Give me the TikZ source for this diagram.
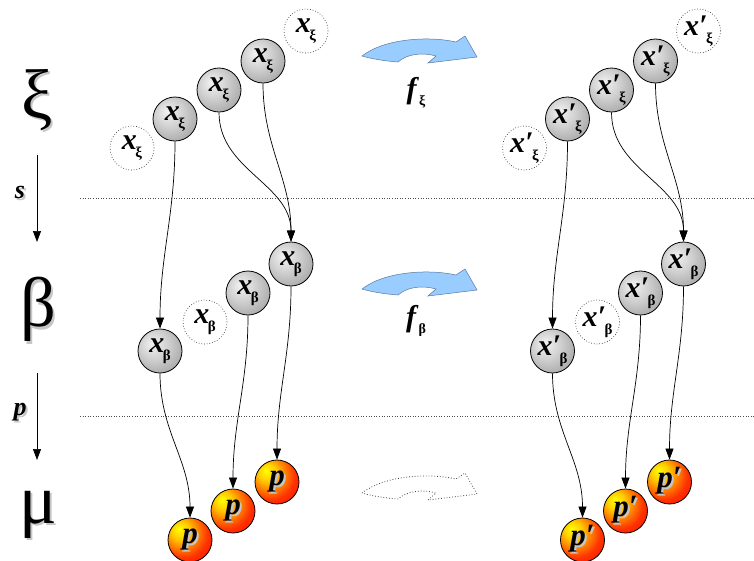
\documentclass[tikz,border=0pt]{standalone}
\usepackage{fontspec}
\setmainfont{Liberation Serif}
\newfontfamily\tms{Liberation Serif}
\usetikzlibrary{arrows.meta}
\pgfdeclareradialshading{greyball}{\pgfpoint{-9bp}{9bp}}{color(0bp)=(gray!10); color(15bp)=(gray!35); color(42bp)=(gray!85); color(70bp)=(gray!95)}
\pgfdeclareradialshading{redball}{\pgfpoint{-13bp}{13bp}}{color(0bp)=(yellow); color(10bp)=(yellow!60!orange); color(28bp)=(orange!40!red); color(45bp)=(red); color(70bp)=(red)}
\definecolor{arrowblue}{RGB}{153,204,255}
\definecolor{arrowedge}{RGB}{90,120,160}
\newcommand\shtext[1]{\makebox[0pt][l]{\kern2pt\raisebox{-2pt}{\color{gray!45}#1}}#1}
\newcommand\xl[2]{{\tms\fontsize{30}{30}\selectfont\textbf{\textit{x#1}}\kern-1.5pt\raisebox{-8pt}{\fontsize{15}{15}\selectfont\bfseries #2}}}
\newcommand\plab[1]{{\tms\fontsize{31}{31}\selectfont\shtext{\textbf{\textit{p#1}}}}}
\newcommand\bigarrow[2]{\draw[#2] (362,#1) .. controls (385,#1-18) and (430,#1-20) .. (456,#1-14) -- (465,#1-20) -- (477,#1+1) -- (428,#1+7) -- (436,#1) .. controls (422,#1-4) and (407,#1-2) .. (398,#1+6) .. controls (385,#1+5) and (372,#1+3) .. cycle;}
\begin{document}
\begin{tikzpicture}[x=1pt,y=-1pt,
  ball/.style={circle, draw=black, line width=0.8pt, minimum size=44pt, inner sep=0pt, shade, shading=greyball},
  ghost/.style={circle, draw=black!80, dotted, line width=0.7pt, minimum size=44pt, inner sep=0pt},
  pball/.style={circle, draw=black, line width=0.8pt, minimum size=44pt, inner sep=0pt, shade, shading=redball},
  conn/.style={line width=0.7pt, -{Triangle[length=11pt,width=8pt]}},
  level/.style={font=\tms\fontsize{54}{54}\selectfont, scale=1.3, transform shape},
  letter/.style={font=\tms\fontsize{26}{26}\selectfont\bfseries\itshape},
  flabel/.style={font=\tms\fontsize{30}{30}\selectfont},
  sep/.style={dotted, line width=0.6pt, black!70}]
\useasboundingbox (0,0) rectangle (754,560);
\clip (0,0) rectangle (754,560);

% level labels
\node[level] (xi) at (37,101) {\shtext{ξ}};
\node[level] (beta) at (38,311) {\shtext{β}};
\node[level] (mu) at (38,516) {\shtext{μ}};
\node[letter] (s) at (20,193) {\shtext{s}};
\node[letter] (pl) at (20,413) {\shtext{p}};
\coordinate (s1) at (37,155);
\coordinate (s2) at (37,242);
\coordinate (p1) at (37,373);
\coordinate (p2) at (37,460);
\draw[conn] (s1) -- (s2);
\draw[conn] (p1) -- (p2);

% separators
\coordinate (d1a) at (80,198);
\coordinate (d1b) at (754,198);
\coordinate (d2a) at (80,416);
\coordinate (d2b) at (754,416);
\draw[sep] (d1a) -- (d1b);
\draw[sep] (d2a) -- (d2b);

% transformation arrows
\bigarrow{56}{fill=arrowblue, draw=arrowedge, line width=0.5pt}
\bigarrow{289}{fill=arrowblue, draw=arrowedge, line width=0.5pt}
\bigarrow{493}{draw=black!75, dotted, line width=0.8pt}
\node[flabel] (fxi) at (416,93) {\textbf{\textit{f}}\raisebox{-7pt}{\fontsize{14}{14}\selectfont\bfseries ξ}};
\node[flabel] (fbeta) at (416,321) {\textbf{\textit{f}}\raisebox{-7pt}{\fontsize{14}{14}\selectfont\bfseries β}};

\foreach \dx/\pr/\s in {0/{}/L,392.5/{′}/R}{
 \begin{scope}[xshift=\dx]
  \node[ghost] (\s-xg1) at (132,148) {\xl{\pr}{ξ}};
  \node[ball] (\s-x1) at (175,119) {\xl{\pr}{ξ}};
  \node[ball] (\s-x2) at (219,90) {\xl{\pr}{ξ}};
  \node[ball] (\s-x3) at (263,61) {\xl{\pr}{ξ}};
  \node[ghost] (\s-xg2) at (306,31) {\xl{\pr}{ξ}};
  \node[ball] (\s-b1) at (160,351) {\xl{\pr}{β}};
  \node[ghost] (\s-bg) at (205,322) {\xl{\pr}{β}};
  \node[ball] (\s-b2) at (248,293) {\xl{\pr}{β}};
  \node[ball] (\s-b3) at (291,264) {\xl{\pr}{β}};
  \node[pball] (\s-p1) at (190,540) {\plab{\pr}};
  \node[pball] (\s-p2) at (233,511) {\plab{\pr}};
  \node[pball] (\s-p3) at (277,482) {\plab{\pr}};
  \draw[conn] (\s-x1.south) to[out=-90,in=90] (\s-b1.north);
  \draw[conn] (\s-x2.south) to[out=-90,in=90] (\s-b3.north);
  \draw[conn] (\s-x3.south) to[out=-90,in=90] (\s-b3.north);
  \draw[conn] (\s-b1.south) to[out=-90,in=90] (\s-p1.north);
  \draw[conn] (\s-b2.south) to[out=-90,in=90] (\s-p2.north);
  \draw[conn] (\s-b3.south) to[out=-90,in=90] (\s-p3.north);
 \end{scope}
}
\end{tikzpicture}
\end{document}
